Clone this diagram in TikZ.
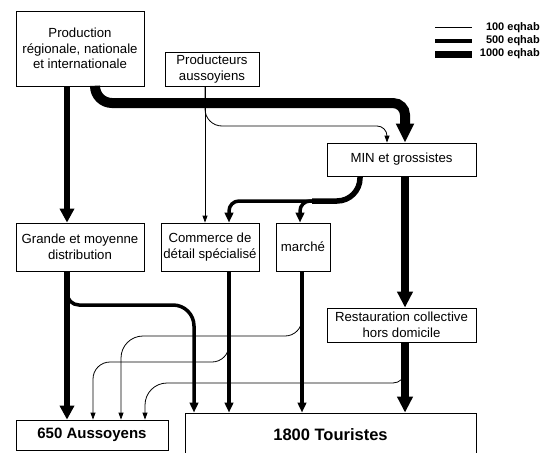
\documentclass[tikz,border=0pt]{standalone}
\usepackage{fontspec}
\setmainfont{Liberation Sans}
\usetikzlibrary{arrows.meta}
\begin{document}
\begin{tikzpicture}[x=1pt,y=-1pt,
  box/.style={draw, line width=0.8pt, inner sep=0pt, align=center, fill=white,
    font=\fontsize{13.2}{15.5}\selectfont},
  fthin/.style={line width=0.8pt, -{Triangle[length=7pt,width=5pt]}},
  fmed/.style={line width=3.5pt, -{Triangle[length=10pt,width=8.5pt]}},
  fmid/.style={line width=5.5pt, -{Triangle[length=14pt,width=14pt]}},
  fbig/.style={line width=8pt, -{Triangle[length=16pt,width=15pt]}},
  fhuge/.style={line width=10pt, -{Triangle[length=19pt,width=17pt]}},
  legtext/.style={anchor=east, inner sep=0pt, font=\fontsize{11}{13}\selectfont\bfseries}
]
\fill[white] (0,0) rectangle (545,452);
\useasboundingbox (0,0) rectangle (545,452);

% column coordinates
\coordinate (c67) at (67,0);
\coordinate (c93) at (93,0);
\coordinate (c95) at (95,0);
\coordinate (c121) at (121,0);
\coordinate (c145) at (145,0);
\coordinate (c194) at (194,0);
\coordinate (c205) at (205,0);
\coordinate (c229) at (229,0);
\coordinate (c300) at (300,0);
\coordinate (c302) at (302,0);
\coordinate (c360) at (360,0);
\coordinate (c387) at (387,0);
\coordinate (c405) at (405,0);

% boxes
\node[box, minimum width=128pt, minimum height=75pt] (prod) at (80,48.5) {Production\\régionale, nationale\\et internationale};
\node[box, minimum width=94pt, minimum height=34pt] (paus) at (212,69) {Producteurs\\aussoyiens};
\node[box, minimum width=149pt, minimum height=33pt] (min) at (401.5,159.5) {MIN et grossistes};
\node[box, minimum width=128pt, minimum height=48pt] (gms) at (80,247) {Grande et moyenne\\distribution};
\node[box, minimum width=98pt, minimum height=48pt] (com) at (210,247) {Commerce de\\détail spécialisé};
\node[box, minimum width=54pt, minimum height=48pt] (mar) at (303,247) {marché};
\node[box, minimum width=149pt, minimum height=34pt] (rest) at (401.5,325) {Restauration collective\\hors domicile};
\node[box, minimum width=152pt, minimum height=30pt, font=\fontsize{15}{18}\selectfont\bfseries] (aus) at (92,435) {650 Aussoyens};
\node[box, minimum width=291pt, minimum height=44pt, font=\fontsize{16.5}{19}\selectfont\bfseries] (tour) at (330.5,435) {1800 Touristes};

% legend
\draw[line width=1pt] (435,28) -- (472,28);
\draw[line width=4pt] (435,41) -- (472,41);
\draw[line width=7pt] (435,54) -- (472,54);
\node[legtext] (l1) at (540,28) {100 eqhab};
\node[legtext] (l2) at (540,41) {500 eqhab};
\node[legtext] (l3) at (540,54) {1000 eqhab};

% connectors
\draw[fhuge] (prod.south -| c95) [rounded corners=17pt] -- (95,103) [rounded corners=12pt] -- (405,103) -- (min.north -| c405);
\draw[fmid] (prod.south -| c67) -- (gms.north -| c67);
\draw[fthin] (paus.south -| c205) -- (com.north -| c205);
\draw[fthin] (paus.south -| c205) [rounded corners=17pt] -- (205,126) [rounded corners=10pt] -- (387,126) -- (min.north -| c387);
\draw[fbig] (min.south -| c405) -- (rest.north -| c405);
\draw[fbig] (rest.south -| c405) -- (tour.north -| c405);
\draw[fthin] (rest.south -| c405) [rounded corners=12pt] -- (405,383) [rounded corners=22pt] -- (145,383) -- (aus.north -| c145);

\coordinate (br) at (312,201);
\draw[line width=5.5pt] (min.south -| c360) [rounded corners=23pt] -- (360,201) -- (br);
\draw[fmed] (br) [rounded corners=10pt] -- (229,201) -- (com.north -| c229);
\draw[fmed] (br) [rounded corners=10pt] -- (300,201) -- (mar.north -| c300);

\draw[fmed] (mar.south -| c302) -- (tour.north -| c302);
\draw[fthin] (mar.south -| c302) [rounded corners=17pt] -- (302,336) [rounded corners=22pt] -- (121,336) -- (aus.north -| c121);
\draw[fmed] (com.south -| c229) -- (tour.north -| c229);
\draw[fthin] (com.south -| c229) [rounded corners=17pt] -- (229,362) -- (93,362) -- (aus.north -| c93);
\draw[fmid] (gms.south -| c67) -- (aus.north -| c67);
\draw[fmed] (gms.south -| c67) [rounded corners=12pt] -- (67,305) [rounded corners=21pt] -- (194,305) -- (tour.north -| c194);
\end{tikzpicture}
\end{document}
